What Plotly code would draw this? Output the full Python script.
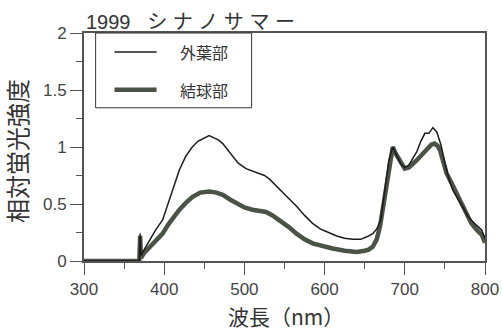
import plotly.graph_objects as go

# Fluorescence spectra, 1999 "シナノサマー"
title_text = "1999   シ ナ ノ サ マ ー"
x_label = "波長（nm）"
y_label = "相対蛍光強度"
series_names = ["外葉部", "結球部"]

# outer leaf (thin line)
outer_nm = [300, 369, 370, 371, 375, 378, 380, 385, 390, 398, 405, 412, 419, 427, 435,
            442, 450, 456, 462, 468, 473, 480, 485, 492, 502, 510, 519, 525, 531, 538,
            544, 555, 565, 575, 585, 595, 605, 615, 625, 635, 645, 652, 660, 665, 670,
            675, 680, 685, 690, 695, 700, 705, 710, 715, 720, 725, 730, 735, 740, 745,
            750, 755, 760, 770, 780, 790, 796, 800]
outer_val = [0.0, 0.0, 0.24, 0.05, 0.10, 0.13, 0.16, 0.22, 0.28, 0.36, 0.50, 0.65, 0.80, 0.92, 1.00,
             1.05, 1.08, 1.10, 1.08, 1.06, 1.03, 0.97, 0.92, 0.86, 0.81, 0.79, 0.77, 0.75, 0.72, 0.67,
             0.62, 0.55, 0.48, 0.40, 0.33, 0.28, 0.25, 0.22, 0.20, 0.19, 0.19, 0.21, 0.24, 0.28, 0.36,
             0.60, 0.88, 1.00, 0.92, 0.85, 0.82, 0.84, 0.90, 0.96, 1.05, 1.12, 1.12, 1.17, 1.13, 1.02,
             0.86, 0.72, 0.62, 0.50, 0.38, 0.31, 0.27, 0.20]

# head (thick line)
head_nm = [300, 369, 370, 371, 375, 380, 385, 390, 398, 405, 412, 419, 427, 435, 445,
           456, 465, 473, 482, 490, 500, 510, 520, 527, 535, 544, 555, 565, 575, 585,
           597, 610, 625, 640, 650, 655, 660, 665, 669, 673, 677, 681, 685, 688, 692,
           696, 700, 705, 710, 715, 721, 727, 733, 737, 741, 744, 748, 752, 760, 771,
           783, 790, 796, 800]
head_val = [0.0, 0.0, 0.22, 0.03, 0.07, 0.11, 0.15, 0.19, 0.24, 0.32, 0.39, 0.45, 0.51, 0.56, 0.60,
            0.61, 0.60, 0.58, 0.54, 0.51, 0.47, 0.45, 0.44, 0.43, 0.40, 0.36, 0.30, 0.24, 0.19, 0.155,
            0.13, 0.11, 0.09, 0.08, 0.09, 0.10, 0.125, 0.19, 0.30, 0.48, 0.68, 0.88, 1.00, 0.95, 0.90,
            0.84, 0.81, 0.82, 0.85, 0.885, 0.93, 0.97, 1.02, 1.03, 1.01, 0.97, 0.88, 0.77, 0.66, 0.51,
            0.33, 0.27, 0.23, 0.16]

x_ticks = [300, 400, 500, 600, 700, 800]
y_ticks = [0, 0.5, 1, 1.5, 2]
y_tick_text = ["0", "0.5", "1", "1.5", "2"]

outer_style = dict(color="#1c1c1c", width=1.5)
head_style = dict(color="#4b5347", width=4.5)

fig = go.Figure()
fig.add_trace(go.Scatter(x=head_nm, y=head_val, mode="lines", name=series_names[1],
                         line=head_style, showlegend=False))
fig.add_trace(go.Scatter(x=outer_nm, y=outer_val, mode="lines", name=series_names[0],
                         line=outer_style, showlegend=False))

cjk = "Noto Sans CJK JP"
num_font = dict(family="Liberation Sans, Arial", size=17, color="#444")

axis_common = dict(showline=True, linecolor="#555", linewidth=2, mirror=True,
                   ticks="outside", ticklen=12, tickwidth=1.2, tickcolor="#555",
                   showgrid=False, zeroline=False, tickfont=num_font, automargin=False)

fig.update_xaxes(range=[300, 800], tickvals=x_ticks,
                 minor=dict(dtick=50, ticklen=6, ticks="outside", tickcolor="#555"),
                 **axis_common)
fig.update_yaxes(range=[0, 2], tickvals=y_ticks, ticktext=y_tick_text,
                 minor=dict(dtick=0.25, ticklen=6, ticks="outside", tickcolor="#555"),
                 **axis_common)

# key box drawn in paper coordinates at the upper left of the plot area
key_font = dict(family=cjk, size=16, color="#333")
key_rows = [(series_names[0], outer_style, 0.917), (series_names[1], head_style, 0.751)]
shapes = [dict(type="rect", xref="paper", yref="paper", x0=0.029, x1=0.418, y0=0.672, y1=1.0,
               line=dict(color="#333", width=1), fillcolor="white", layer="above")]
annotations = [
    dict(text=title_text, xref="paper", yref="paper", x=0, y=1,
         xanchor="left", yanchor="bottom", yshift=-2, showarrow=False,
         font=dict(family="Liberation Sans, " + cjk, size=20, color="#333")),
    dict(text=x_label, xref="paper", yref="paper", x=0.503, y=-0.2407,
         xanchor="center", yanchor="middle", showarrow=False, borderpad=0,
         font=dict(family=cjk, size=21, color="#333")),
    dict(text=y_label, xref="paper", yref="paper", x=-0.1685, y=0.484, textangle=-90,
         xanchor="center", yanchor="middle", showarrow=False,
         font=dict(family=cjk, size=24, color="#333")),
]
for name, style, ky in key_rows:
    shapes.append(dict(type="line", xref="paper", yref="paper", x0=0.076, x1=0.181,
                       y0=ky, y1=ky, line=style, layer="above"))
    annotations.append(dict(text=name, xref="paper", yref="paper", x=0.234, y=ky,
                            xanchor="left", yanchor="middle", showarrow=False, font=key_font))

fig.update_layout(
    width=502, height=332,
    margin=dict(l=84, r=17, t=33, b=71),
    paper_bgcolor="white", plot_bgcolor="white",
    showlegend=False,
    shapes=shapes,
    annotations=annotations,
)

fig.write_html("out.html")
